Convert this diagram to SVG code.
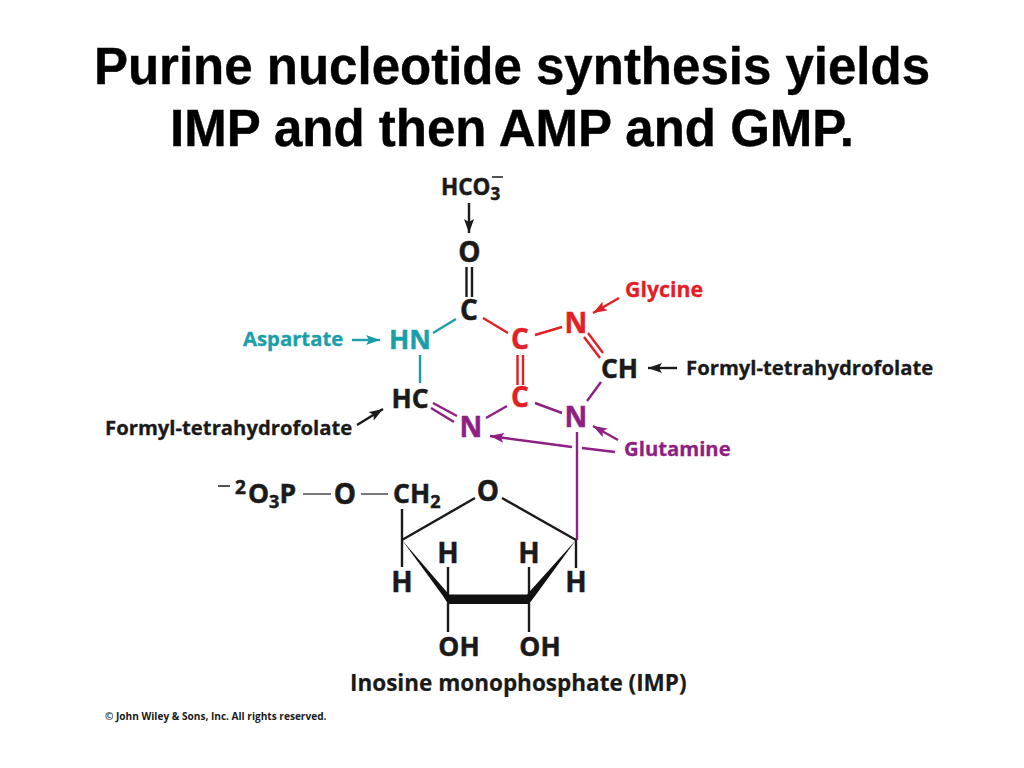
<svg xmlns="http://www.w3.org/2000/svg" width="1024" height="768" viewBox="0 0 1024 768">
<style>
text{font-family:"Open Sans","Noto Sans","Liberation Sans",sans-serif;font-weight:700}
.title{font-family:"Liberation Sans",Arial,sans-serif;font-size:51px;text-anchor:middle;fill:#000;stroke:#000;stroke-width:.4px}
.atom{font-size:26.5px;text-anchor:middle;stroke-width:.5px}
.big{font-size:28px}
.start{text-anchor:start}
.lab{font-size:20.3px;stroke-width:.3px}
.k{fill:#1a1a1a;stroke:#1a1a1a}.r{fill:#e21f26;stroke:#e21f26}.t{fill:#1a9eaa;stroke:#1a9eaa}.p{fill:#8e1f83;stroke:#8e1f83}
.sk{stroke:#1a1a1a;stroke-width:2.400;fill:none}
.sr{stroke:#e21f26;stroke-width:2.400;fill:none}
.st{stroke:#1a9eaa;stroke-width:2.400;fill:none}
.sp{stroke:#8e1f83;stroke-width:2.400;fill:none}
.sg{stroke:#777;stroke-width:1.800;fill:none}
.thin{stroke-width:1.500}
.cap{font-size:22.5px;stroke-width:.2px}
.copy{font-size:10.1px;fill:#1a1a1a}
</style>
<defs>
<marker id="ak" markerUnits="userSpaceOnUse" viewBox="0 0 14 10" refX="14" refY="5" markerWidth="14" markerHeight="10" orient="auto"><path d="M0 0L14 5L0 10L3 5Z" fill="#1a1a1a"/></marker>
<marker id="ar" markerUnits="userSpaceOnUse" viewBox="0 0 14 10" refX="14" refY="5" markerWidth="14" markerHeight="10" orient="auto"><path d="M0 0L14 5L0 10L3 5Z" fill="#e21f26"/></marker>
<marker id="at" markerUnits="userSpaceOnUse" viewBox="0 0 14 10" refX="14" refY="5" markerWidth="14" markerHeight="10" orient="auto"><path d="M0 0L14 5L0 10L3 5Z" fill="#1a9eaa"/></marker>
<marker id="ap" markerUnits="userSpaceOnUse" viewBox="0 0 14 10" refX="14" refY="5" markerWidth="14" markerHeight="10" orient="auto"><path d="M0 0L14 5L0 10L3 5Z" fill="#8e1f83"/></marker>
</defs>
<rect width="1024" height="768" fill="#fff"/>
<g id="title">
<text class="title" x="512" y="84">Purine nucleotide synthesis yields</text>
<text class="title" x="512" y="146">IMP and then AMP and GMP.</text>
</g>
<g id="connectors">
<path class="sk" d="M469 203V233" marker-end="url(#ak)"/>
<path class="sk" d="M466.500 267V297M472 267V297"/>
<path class="st" d="M456 319L433 333M420 355V383"/>
<path class="sr" d="M483 318L508 333M535 335L562 327M517.500 355V385M523 355V385M584 337L600 358M588 333L603 353"/>
<path class="sp" d="M601 382L587 401M535 403L562 413M507 406L486 418M433 403L457 416M431 408L454 422M577 432V540M582 448L615 452"/>
<path class="sr" d="M619 298L593 313" marker-end="url(#ar)"/>
<path class="sp" d="M618 440L593 426" marker-end="url(#ap)"/>
<path class="sp" d="M572 447L490 436" marker-end="url(#ap)"/>
<path class="st" d="M352 340H380" marker-end="url(#at)"/>
<path class="sk" d="M357 425L383 409" marker-end="url(#ak)"/>
<path class="sk" d="M677 368H648" marker-end="url(#ak)"/>
<path class="sg" d="M303 494H331M361 494H388"/>
<path class="sk" d="M402 509V567M402 540L475 498M502 498L576 540M576 540V568M448 567V595M529 567V595M448 603V632M529 603V632"/>
<path d="M402 540L443 596L448 604H529L535 596L576 540L527 594.500H449Z" fill="#111"/>
</g>
<g id="node-hco3"><text class="atom k start" x="441" y="195" style="font-size:22.500px">HCO<tspan dy="5" font-size="17">3</tspan></text><path class="sk thin" d="M492 177H503"/></g>
<g id="node-o"><text class="atom big k" x="469.500" y="262">O</text></g>
<g id="node-c2"><text class="atom big k" x="469" y="320">C</text></g>
<g id="node-hn"><text class="atom t" x="410" y="349">HN</text></g>
<g id="node-c5"><text class="atom big r" x="520" y="349">C</text></g>
<g id="node-n7"><text class="atom big r" x="576" y="333">N</text></g>
<g id="node-ch"><text class="atom k" x="619.500" y="378">CH</text></g>
<g id="node-c4"><text class="atom big r" x="520" y="407">C</text></g>
<g id="node-n9"><text class="atom big p" x="576" y="427">N</text></g>
<g id="node-hc"><text class="atom k" x="410" y="408">HC</text></g>
<g id="node-n3"><text class="atom big p" x="471" y="437">N</text></g>
<g id="label-aspartate"><text class="lab t" x="243" y="346">Aspartate</text></g>
<g id="label-glycine"><text class="lab r" x="625" y="297" style="font-size:21.300px">Glycine</text></g>
<g id="label-formyl-right"><text class="lab k" x="686" y="375">Formyl-tetrahydrofolate</text></g>
<g id="label-formyl-left"><text class="lab k" x="105" y="435">Formyl-tetrahydrofolate</text></g>
<g id="label-glutamine"><text class="lab p" x="624" y="456">Glutamine</text></g>
<g id="node-phosphate"><path class="sk thin" d="M218 486H230"/><text class="atom k start" x="235" y="503"><tspan font-size="19" dy="-9">2</tspan><tspan x="248" dy="9">O</tspan><tspan font-size="18" dy="5">3</tspan><tspan dy="-5">P</tspan></text></g>
<g id="node-o5"><text class="atom big k" x="345" y="504">O</text></g>
<g id="node-ch2"><text class="atom k start" x="393" y="503">CH<tspan font-size="18" dy="5">2</tspan></text></g>
<g id="node-o4"><text class="atom big k" x="488" y="501">O</text></g>
<g id="node-h1"><text class="atom big k" x="448" y="563">H</text></g>
<g id="node-h2"><text class="atom big k" x="529" y="563">H</text></g>
<g id="node-h3"><text class="atom big k" x="402" y="592">H</text></g>
<g id="node-h4"><text class="atom big k" x="576" y="592">H</text></g>
<g id="node-oh1"><text class="atom k" x="459" y="656">OH</text></g>
<g id="node-oh2"><text class="atom k" x="540" y="656">OH</text></g>
<g id="caption"><text class="k cap" x="350" y="691">Inosine monophosphate (IMP)</text></g>
<g id="copyright"><text class="copy" x="105" y="720">© John Wiley &amp; Sons, Inc. All rights reserved.</text></g>
</svg>
